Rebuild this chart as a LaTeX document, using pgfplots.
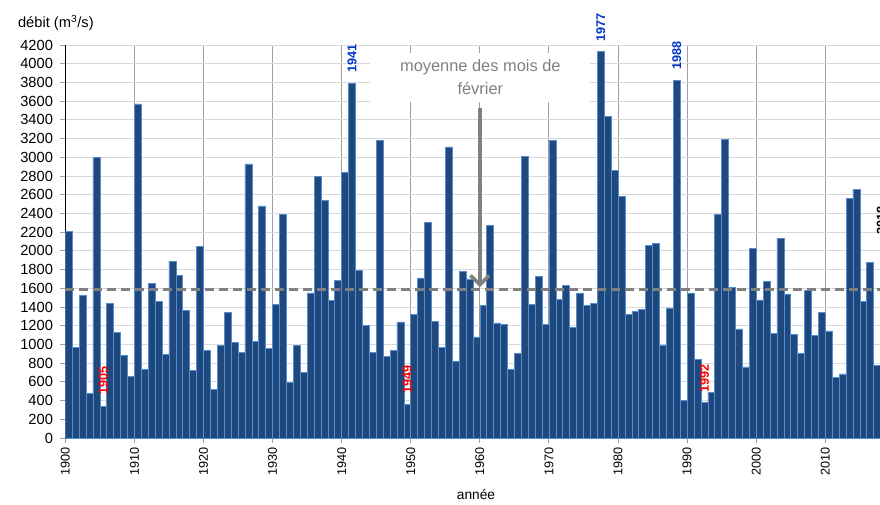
\documentclass[border=0pt]{standalone}
\usepackage{fontspec}
\setmainfont{Liberation Sans}
\usepackage{pgfplots}
\usepackage{pgfplotstable}
\pgfplotsset{compat=1.18}
\usetikzlibrary{arrows.meta}
\definecolor{barfill}{RGB}{31,73,125}
\definecolor{baredge}{RGB}{84,141,212}
\definecolor{hgrid}{RGB}{217,217,217}
\definecolor{vgrid}{RGB}{160,160,160}
\definecolor{annot}{RGB}{128,128,128}
\definecolor{lblred}{RGB}{255,0,0}
\definecolor{lblblue}{RGB}{0,51,204}
\pgfplotstableread{
year val
1900 2210
1901 970
1902 1520
1903 480
1904 3000
1905 340
1906 1440
1907 1130
1908 885
1909 660
1910 3570
1911 735
1912 1650
1913 1460
1914 890
1915 1890
1916 1740
1917 1360
1918 720
1919 2050
1920 940
1921 520
1922 990
1923 1340
1924 1020
1925 915
1926 2930
1927 1030
1928 2480
1929 960
1930 1430
1931 2390
1932 590
1933 990
1934 705
1935 1550
1936 2800
1937 2540
1938 1470
1939 1680
1940 2840
1941 3790
1942 1790
1943 1200
1944 915
1945 3180
1946 875
1947 940
1948 1240
1949 360
1950 1320
1951 1710
1952 2300
1953 1250
1954 970
1955 3110
1956 820
1957 1780
1958 1700
1959 1080
1960 1420
1961 2270
1962 1230
1963 1210
1964 735
1965 900
1966 3010
1967 1430
1968 1730
1969 1210
1970 3180
1971 1480
1972 1630
1973 1180
1974 1550
1975 1420
1976 1440
1977 4130
1978 3440
1979 2860
1980 2580
1981 1320
1982 1350
1983 1370
1984 2060
1985 2080
1986 995
1987 1390
1988 3820
1989 405
1990 1550
1991 840
1992 380
1993 485
1994 2390
1995 3190
1996 1610
1997 1165
1998 760
1999 2030
2000 1475
2001 1675
2002 1120
2003 2135
2004 1540
2005 1110
2006 900
2007 1580
2008 1100
2009 1345
2010 1145
2011 650
2012 685
2013 2560
2014 2660
2015 1460
2016 1880
2017 780
}\debit
\begin{document}
\begin{tikzpicture}
\begin{axis}[
  scale only axis,
  width=611pt, height=294.75pt,
  at={(0,0)}, anchor=south west,
  xmin=1900, xmax=2017.92,
  ymin=0, ymax=4200,
  axis x line*=bottom, axis y line*=left,
  axis line style={black, line width=0.75pt},
  xtick={1900,1910,...,2010},
  ytick={0,200,...,4200},
  tick align=outside,
  major tick length=3.75pt,
  tick style={color=vgrid, line width=0.75pt},
  xmajorgrids, ymajorgrids,
  x grid style={color=vgrid, line width=0.75pt},
  y grid style={color=hgrid, line width=0.75pt},
  /pgf/number format/.cd, 1000 sep={}, assume math mode=true,
  /pgfplots/.cd,
  xticklabel style={rotate=90, anchor=east, font=\fontsize{9.5}{11}\selectfont},
  yticklabel style={font=\fontsize{11}{13}\selectfont, xshift=-2pt},
  clip mode=individual,
]
\addplot[ybar, bar width=1, fill=barfill, draw=baredge, line width=0.5pt]
  table[x expr=\thisrow{year}+0.5, y=val] {\debit};
\addplot[annot, line width=2.25pt, dash pattern=on 6.75pt off 3.75pt]
  coordinates {(1900,1585) (2017.92,1585)};
% annotation box and arrow
\node[fill=white, inner sep=0pt, minimum width=165pt, minimum height=37pt,
      text=annot, align=center, font=\fontsize{12.3}{17.25}\selectfont]
  at (axis cs:1960.07,3853) {moyenne des mois de\\février};
\draw[annot, line width=2.75pt, -{Straight Barb[length=7pt,width=14pt]}]
  (axis cs:1960,3530) -- (axis cs:1960,1610);
% year labels
\begin{scope}[every node/.style={rotate=90, anchor=west, inner sep=0pt,
   font=\bfseries\fontsize{9.5}{11}\selectfont}]
\node[text=lblred] at (axis cs:1905.5,460) {1905};
\node[text=lblred] at (axis cs:1949.5,470) {1949};
\node[text=lblred] at (axis cs:1992.5,480) {1992};
\node[text=lblblue] at (axis cs:1941.5,3900) {1941};
\node[text=lblblue] at (axis cs:1977.5,4230) {1977};
\node[text=lblblue] at (axis cs:1988.5,3930) {1988};
\node[text=black] at (axis cs:2018.1,2170) {2018};
\end{scope}
\end{axis}
\node[anchor=base west, font=\fontsize{11}{13}\selectfont] at (-39pt,307.5pt) {débit (m\textsuperscript{3}/s)};
\node[font=\fontsize{10.3}{12}\selectfont] at (308pt,-42.75pt) {année};
\pgfresetboundingbox
\path[use as bounding box] (-49pt,-49.5pt) rectangle (611pt,328.5pt);
\end{tikzpicture}
\end{document}
